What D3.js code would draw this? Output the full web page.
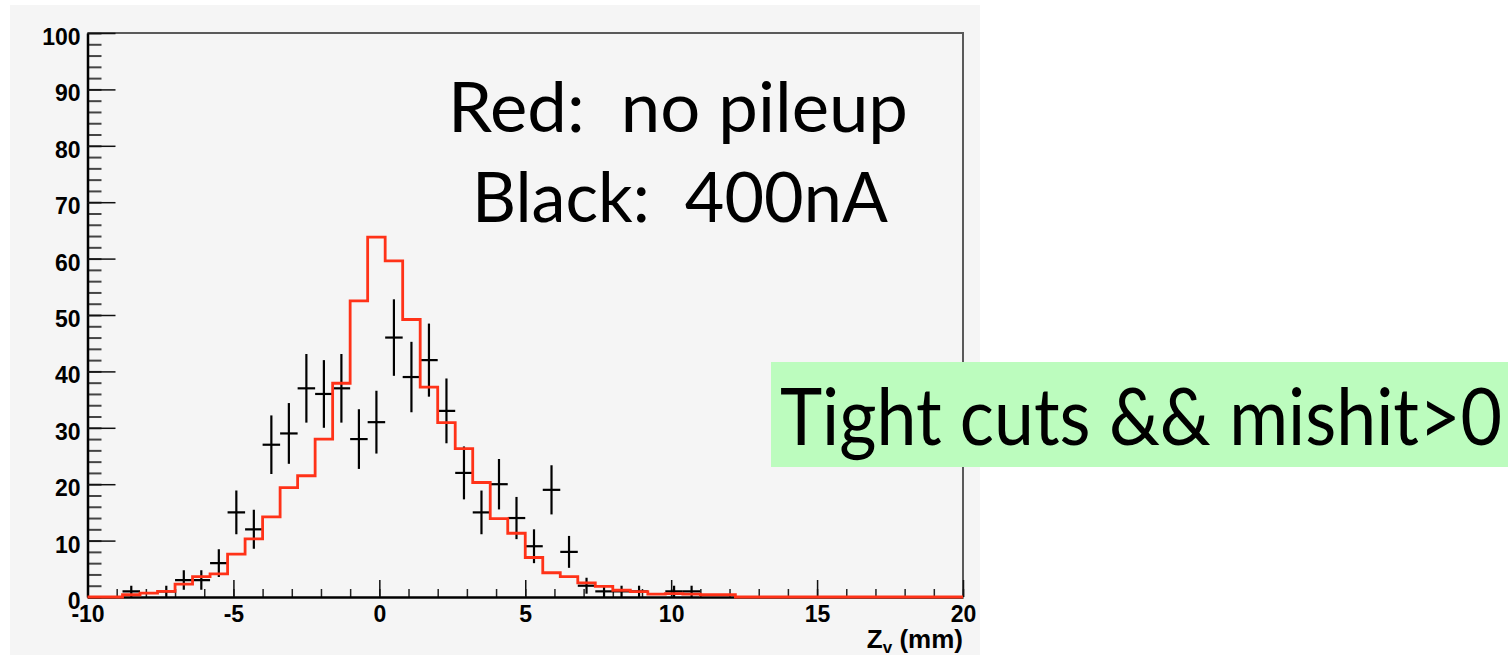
<!DOCTYPE html>
<html>
<head>
<meta charset="utf-8">
<script src="https://cdn.jsdelivr.net/npm/d3@7"></script>
<style>
  body { margin: 0; background: #ffffff; }
  svg { display: block; }
</style>
</head>
<body>
<svg id="svg-grafico"></svg>
<script>
// rango del eje x y cantidad de bins del histograma
const x_min = -10;
const x_max = 20;
const n_bins = 50;

// histograma rojo (sin pileup), contenido por bin
const red_values = [0, 0, 0.4, 0.7, 1.0, 2.3, 3.6, 4.1, 7.6, 10.3,
  14.2, 19.4, 21.5, 28.0, 37.9, 52.5, 63.8, 59.6, 49.2, 37.2,
  30.9, 26.3, 20.3, 13.9, 11.3, 7.0, 4.3, 3.6, 2.5, 1.9,
  1.2, 0.95, 0.5, 0.6, 0.5, 0.4, 0.4, 0, 0, 0,
  0, 0, 0, 0, 0, 0, 0, 0, 0, 0];

// puntos negros (400nA), cuentas por bin
const black_values = [0, 0, 1, 0, 1, 3, 3, 6, 15, 12,
  27, 29, 37, 36, 37, 28, 31, 46, 39, 42,
  33, 22, 15, 20, 14, 9, 19, 8, 2, 1,
  1, 1, 0, 1, 1, 0, 0, 0, 0, 0,
  0, 0, 0, 0, 0, 0, 0, 0, 0, 0];

// marcas de los ejes
const y_ticks = [0, 10, 20, 30, 40, 50, 60, 70, 80, 90, 100];
const x_ticks = [-10, -5, 0, 5, 10, 15, 20];

const ancho = 1508;
const alto = 656;

const svg = d3.select("#svg-grafico")
  .attr("width", ancho)
  .attr("height", alto);

// fondo gris del canvas de ROOT
svg.append("rect")
  .attr("x", 10).attr("y", 5)
  .attr("width", 970).attr("height", 650)
  .style("fill", "#f5f5f5");

const x = d3.scaleLinear().domain([x_min, x_max]).range([87.5, 963]);
const y = d3.scaleLinear().domain([0, 100]).range([597, 33]);
const ancho_bin = (x_max - x_min) / n_bins;

// recorte al area del marco
svg.append("clipPath").attr("id", "marco")
  .append("rect")
  .attr("x", x.range()[0]).attr("y", y.range()[1])
  .attr("width", x.range()[1] - x.range()[0])
  .attr("height", y.range()[0] - y.range()[1]);

// marco superior y derecho
svg.append("path")
  .attr("d", `M${x.range()[0]},${y(100)}H${x.range()[1]}V${y(0)}`)
  .style("fill", "none")
  .style("stroke", "#5a5a5a")
  .style("stroke-width", 2);

// ejes: primero las marcas menores
svg.append("g")
  .attr("transform", `translate(0,${y(0)})`)
  .call(d3.axisBottom(x).tickValues(d3.range(x_min, x_max + 1, 1))
    .tickSize(-8).tickFormat(""))
  .call(g => g.select(".domain").remove())
  .call(g => g.selectAll("line").style("stroke", "#222").style("stroke-width", 1.5));

svg.append("g")
  .attr("transform", `translate(${x(x_min)},0)`)
  .call(d3.axisLeft(y).tickValues(d3.range(0, 101, 2))
    .tickSize(-14).tickFormat(""))
  .call(g => g.select(".domain").remove())
  .call(g => g.selectAll("line").style("stroke", "#444").style("stroke-width", 2));

// etiquetas con guion normal, como en ROOT
const eje_x = svg.append("g")
  .attr("transform", `translate(0,${y(0)})`)
  .call(d3.axisBottom(x).tickValues(x_ticks).tickFormat(d => String(d))
    .tickSizeInner(-17).tickSizeOuter(0).tickPadding(9));

const eje_y = svg.append("g")
  .attr("transform", `translate(${x(x_min)},0)`)
  .call(d3.axisLeft(y).tickValues(y_ticks).tickFormat(d => String(d))
    .tickSizeInner(-28).tickSizeOuter(0).tickPadding(7));

[eje_x, eje_y].forEach(function (eje) {
  eje.select(".domain").style("stroke", "#000").style("stroke-width", 2.5);
  eje.selectAll(".tick line").style("stroke", "#111").style("stroke-width", 1.5);
  eje.selectAll("text")
    .style("font-family", "'Liberation Sans', Arial, sans-serif")
    .style("font-weight", "bold")
    .style("font-size", "23px")
    .style("fill", "#000");
});
eje_y.selectAll("text").attr("dy", "0.5em");

// titulo del eje x: Z_v (mm)
const titulo_x = svg.append("text")
  .attr("x", x(x_max)).attr("y", 648)
  .attr("text-anchor", "end")
  .style("font-family", "'Liberation Sans', Arial, sans-serif")
  .style("font-weight", "bold")
  .style("font-size", "26px");
titulo_x.append("tspan").text("Z");
titulo_x.append("tspan").attr("dy", 5).style("font-size", "17px").text("v");
titulo_x.append("tspan").attr("dy", -5).text(" (mm)");

// puntos negros con barras de error (raiz de N)
const puntos = svg.append("g").attr("clip-path", "url(#marco)");
for (let i = 0; i < n_bins; i++) {
  const n = black_values[i];
  if (n <= 0) continue;
  const borde = x_min + i * ancho_bin;
  const centro = borde + ancho_bin / 2;
  const err = Math.sqrt(n);
  puntos.append("line")
    .attr("x1", x(borde)).attr("x2", x(borde + ancho_bin))
    .attr("y1", y(n)).attr("y2", y(n))
    .style("stroke", "#000").style("stroke-width", 2.2);
  puntos.append("line")
    .attr("x1", x(centro)).attr("x2", x(centro))
    .attr("y1", y(n - err)).attr("y2", y(n + err))
    .style("stroke", "#000").style("stroke-width", 2.2);
}

// histograma rojo en escalones
const escalones = [[x_min, 0]];
red_values.forEach(function (v, i) {
  const borde = x_min + i * ancho_bin;
  escalones.push([borde, v]);
  escalones.push([borde + ancho_bin, v]);
});
escalones.push([x_max, 0]);

svg.append("path")
  .datum(escalones)
  .attr("d", d3.line().x(d => x(d[0])).y(d => y(d[1])))
  .style("fill", "none")
  .style("stroke", "#ff3218")
  .style("stroke-width", 2.8);

// leyenda en texto
const fuente = "Lato, 'Open Sans', sans-serif";
svg.append("text")
  .attr("x", 448).attr("y", 132)
  .attr("textLength", 460).attr("lengthAdjust", "spacingAndGlyphs")
  .style("white-space", "pre")
  .style("font-family", fuente).style("font-size", "69px")
  .text("Red:  no pileup");

svg.append("text")
  .attr("x", 472).attr("y", 222)
  .attr("textLength", 416).attr("lengthAdjust", "spacingAndGlyphs")
  .style("white-space", "pre")
  .style("font-family", fuente).style("font-size", "69px")
  .text("Black:  400nA");

// caja verde con los cortes
svg.append("rect")
  .attr("x", 771).attr("y", 362)
  .attr("width", ancho - 771).attr("height", 105)
  .style("fill", "#bcfcbe");

svg.append("text")
  .attr("x", 780).attr("y", 445)
  .attr("textLength", 722).attr("lengthAdjust", "spacingAndGlyphs")
  .style("font-family", fuente).style("font-size", "79px")
  .text("Tight cuts && mishit>0");
</script>
</body>
</html>
